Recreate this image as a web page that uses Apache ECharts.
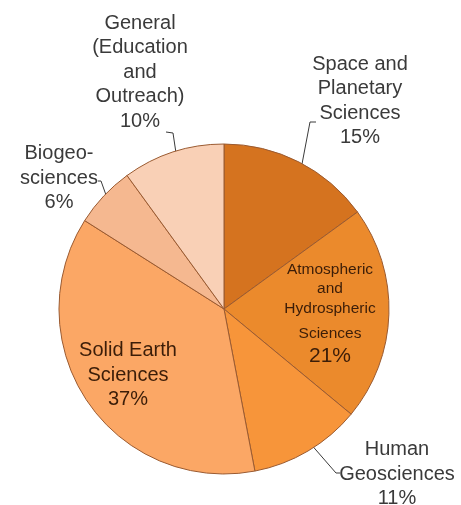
<!DOCTYPE html>
<html>
<head>
<meta charset="utf-8">
<style>
  html, body { margin: 0; padding: 0; background: #fff; }
  #chart { width: 461px; height: 505px; }
</style>
<script src="https://cdn.jsdelivr.net/npm/echarts@6/dist/echarts.min.js"></script>
</head>
<body>
<div id="chart"></div>
<script>
// slices, clockwise from 12 o'clock
const categories = [
  'Space and Planetary Sciences',
  'Atmospheric and Hydrospheric Sciences',
  'Human Geosciences',
  'Solid Earth Sciences',
  'Biogeosciences',
  'General (Education and Outreach)'
]
const shares = [15, 21, 11, 37, 6, 10]
// label text as shown on the chart (line breaks)
const labelLines = [
  ['Space and', 'Planetary', 'Sciences'],
  ['Atmospheric', 'and', 'Hydrospheric', 'Sciences'],
  ['Human', 'Geosciences'],
  ['Solid Earth', 'Sciences'],
  ['Biogeo-', 'sciences'],
  ['General', '(Education', 'and', 'Outreach)']
]
const colors = ['#d5731f', '#eb8a2c', '#f7953a', '#fba765', '#f5b890', '#f9d0b6']

// where each label block sits, and its leader line
const labelPos = [
  { x: 360, y: 101, line: [[302, 164], [310, 122], [316, 122]] },
  { x: 330, y: 312 },
  { x: 397, y: 474, line: [[309, 442], [336, 473], [340, 473]] },
  { x: 128, y: 375 },
  { x: 59, y: 178, line: [[106, 195], [101, 181], [98, 181]] },
  { x: 140, y: 72, line: [[176, 153], [173, 133], [166, 132]] }
]
const insideIdx = [1, 3]

const chart = echarts.init(document.getElementById('chart'))

const data = categories.map((name, i) => {
  const inside = insideIdx.indexOf(i) >= 0
  return {
    name,
    value: shares[i],
    itemStyle: { color: colors[i] },
    label: {
      formatter: () => {
        if (i === 1) {
          // last word line sits a little lower in the original
          const ls = labelLines[i]
          return ls.slice(0, -1).map(s => '{s|' + s + '}').join('\n') +
            '\n{s2|' + ls[ls.length - 1] + '}\n{p|' + shares[i] + '%}'
        }
        return labelLines[i].join('\n') + '\n' + shares[i] + '%'
      },
      color: inside ? '#3b1d08' : '#3a3a3a'
    },
    labelLine: { show: !inside }
  }
})

const font = 'Liberation Sans, Arial, sans-serif'

chart.setOption({
  animation: false,
  series: [
    {
      type: 'pie',
      center: [224, 309],
      radius: 165,
      startAngle: 90,
      clockwise: true,
      itemStyle: {
        borderColor: '#9a5a30',
        borderWidth: 1
      },
      label: {
        show: true,
        position: 'outside',
        overflow: 'none',
        fontFamily: font,
        fontSize: 20,
        lineHeight: 24.5,
        align: 'center',
        rich: {
          s: { fontSize: 15.5, lineHeight: 19.5, color: '#3b1d08', fontFamily: font },
          s2: { fontSize: 15.5, lineHeight: 30, color: '#3b1d08', fontFamily: font },
          p: { fontSize: 21, lineHeight: 16, color: '#3b1d08', fontFamily: font }
        }
      },
      labelLine: {
        show: true,
        lineStyle: { color: '#3a3a3a', width: 1 }
      },
      labelLayout: (params) => {
        const p = labelPos[params.dataIndex]
        const out = { x: p.x, y: p.y, align: 'center', verticalAlign: 'middle' }
        if (p.line) out.labelLinePoints = p.line
        return out
      },
      data
    }
  ]
})
</script>
</body>
</html>
